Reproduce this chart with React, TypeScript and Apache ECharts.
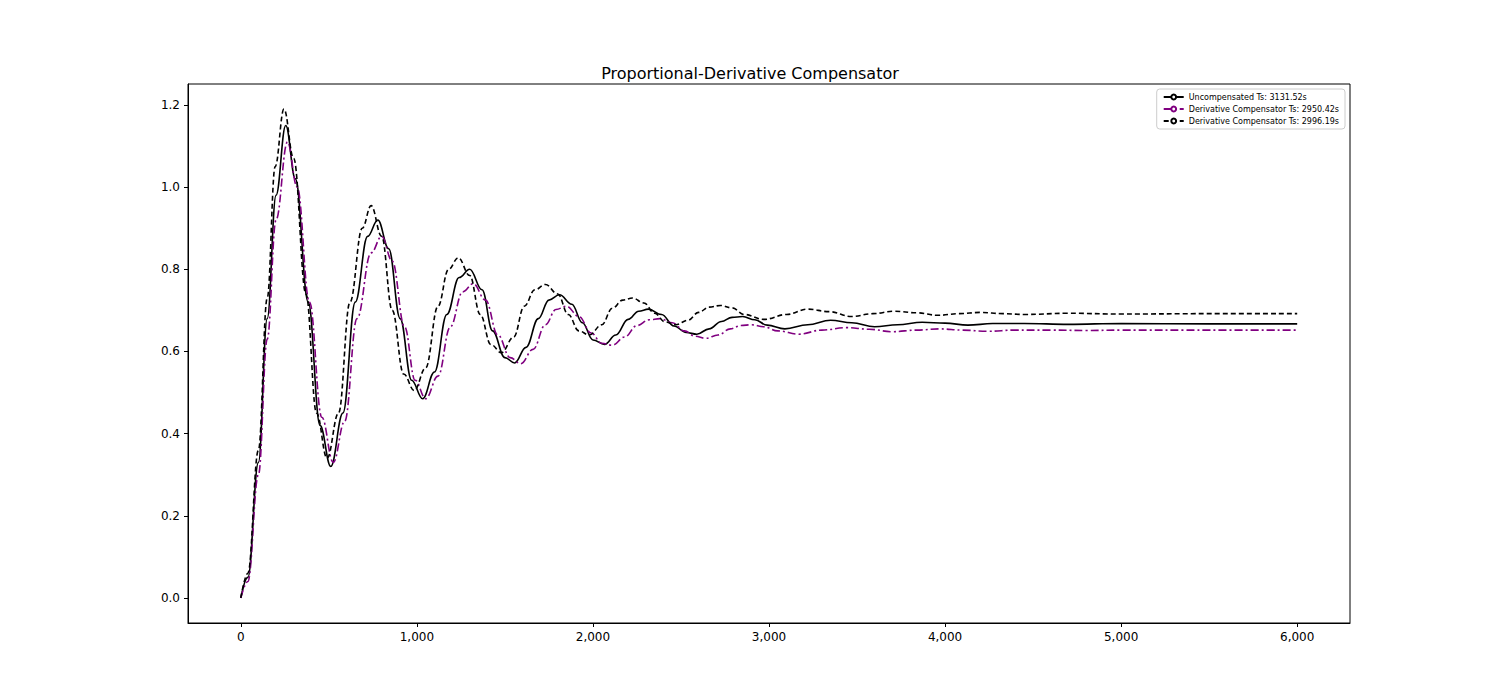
import React, { useEffect, useRef } from 'react';
import * as echarts from 'echarts';

const xTicks = [0, 1000, 2000, 3000, 4000, 5000, 6000];
const yTicks = [0, 0.2, 0.4, 0.6, 0.8, 1.0, 1.2];
const seriesNames = [
  'Uncompensated Ts: 3131.52s',
  'Derivative Compensator Ts: 2950.42s',
  'Derivative Compensator Ts: 2996.19s',
];

const uncompensated = [[0,0],[40,0.05],[100,0.33],[150,0.68],[200,0.98],[255,1.15],[310,1.02],[383,0.72],[450,0.42],[511,0.32],[580,0.45],[650,0.72],[720,0.88],[778,0.92],[840,0.85],[905,0.68],[970,0.53],[1033,0.485],[1100,0.55],[1170,0.69],[1240,0.78],[1300,0.80],[1370,0.75],[1430,0.65],[1500,0.585],[1555,0.572],[1620,0.61],[1690,0.68],[1750,0.725],[1810,0.738],[1880,0.715],[1940,0.67],[2000,0.628],[2066,0.617],[2130,0.64],[2200,0.678],[2260,0.698],[2315,0.703],[2390,0.69],[2460,0.662],[2530,0.646],[2590,0.642],[2660,0.655],[2730,0.673],[2790,0.683],[2850,0.685],[2920,0.677],[2990,0.664],[3090,0.655],[3220,0.665],[3350,0.676],[3470,0.67],[3600,0.660],[3730,0.665],[3870,0.671],[4000,0.669],[4130,0.664],[4270,0.668],[4450,0.668],[4700,0.666],[5000,0.668],[5500,0.667],[6000,0.667]];

const derivA = [[0,0],[40,0.04],[100,0.3],[150,0.63],[200,0.92],[265,1.11],[320,1.0],[390,0.72],[460,0.44],[525,0.33],[590,0.43],[660,0.68],[740,0.84],[800,0.88],[860,0.82],[930,0.66],[990,0.53],[1050,0.485],[1120,0.54],[1190,0.66],[1260,0.745],[1320,0.765],[1390,0.725],[1460,0.64],[1530,0.585],[1590,0.57],[1660,0.605],[1730,0.665],[1790,0.702],[1850,0.71],[1920,0.685],[1990,0.645],[2050,0.62],[2110,0.615],[2180,0.635],[2250,0.663],[2320,0.677],[2380,0.68],[2450,0.67],[2520,0.65],[2580,0.637],[2640,0.632],[2710,0.64],[2780,0.655],[2840,0.663],[2900,0.665],[2970,0.66],[3050,0.65],[3170,0.642],[3300,0.652],[3440,0.658],[3570,0.654],[3700,0.648],[3840,0.652],[3970,0.655],[4100,0.652],[4240,0.649],[4400,0.652],[4600,0.652],[4800,0.651],[5000,0.652],[5500,0.652],[6000,0.652]];

const derivB = [[0,0],[40,0.06],[100,0.36],[150,0.73],[195,1.05],[245,1.19],[300,1.07],[370,0.74],[430,0.45],[490,0.34],[555,0.45],[620,0.72],[690,0.9],[740,0.955],[800,0.88],[860,0.70],[925,0.545],[985,0.505],[1050,0.56],[1120,0.71],[1180,0.8],[1235,0.828],[1300,0.785],[1360,0.69],[1420,0.617],[1480,0.597],[1550,0.635],[1610,0.71],[1670,0.75],[1730,0.763],[1800,0.74],[1860,0.69],[1920,0.65],[1980,0.64],[2050,0.665],[2110,0.705],[2170,0.725],[2225,0.73],[2290,0.718],[2350,0.693],[2410,0.672],[2470,0.665],[2540,0.676],[2600,0.695],[2660,0.708],[2725,0.712],[2790,0.706],[2860,0.69],[2970,0.678],[3100,0.69],[3220,0.703],[3340,0.697],[3470,0.685],[3590,0.692],[3710,0.698],[3840,0.694],[3960,0.688],[4080,0.692],[4200,0.695],[4330,0.692],[4450,0.690],[4700,0.693],[5000,0.691],[5500,0.692],[6000,0.692]];

const font = 'DejaVu Sans';

const App: React.FC = () => {
  const chartRef = useRef<HTMLDivElement | null>(null);

  useEffect(() => {
    if (!chartRef.current) return;
    const chart = echarts.init(chartRef.current, null, { renderer: 'svg' });
    const line = (name: string, data: number[][], color: string, type: any) => ({
      name,
      type: 'line',
      data,
      smooth: 0.4,
      smoothMonotone: 'x',
      showSymbol: false,
      color,
      lineStyle: { color, width: 1.6, type },
    });
    chart.setOption({
      animation: false,
      textStyle: { fontFamily: font },
      title: {
        text: 'Proportional-Derivative Compensator',
        left: 'center',
        top: 60,
        textStyle: { fontFamily: font, fontSize: 16, fontWeight: 'normal', color: '#000' },
      },
      legend: {
        orient: 'vertical',
        right: 155,
        top: 89,
        itemWidth: 20,
        itemHeight: 6,
        itemGap: 4,
        padding: [4, 6],
        borderColor: '#ccc',
        borderWidth: 1,
        borderRadius: 3,
        backgroundColor: '#fff',
        textStyle: { fontFamily: font, fontSize: 8, color: '#000' },
        data: seriesNames,
      },
      grid: {
        left: 188, right: 150, top: 84, bottom: 77,
        show: true, borderColor: '#000', borderWidth: 1,
      },
      xAxis: {
        type: 'value', min: -300, max: 6300,
        axisLine: { show: true, onZero: false, lineStyle: { color: '#000' } },
        axisTick: { show: true, customValues: xTicks, length: 4, lineStyle: { color: '#000' } },
        axisLabel: { customValues: xTicks, color: '#000', fontSize: 12, margin: 8 },
        splitLine: { show: false },
      },
      yAxis: {
        type: 'value', min: -0.061, max: 1.251,
        axisLine: { show: true, onZero: false, lineStyle: { color: '#000' } },
        axisTick: { show: true, customValues: yTicks, length: 4, lineStyle: { color: '#000' } },
        axisLabel: { customValues: yTicks, color: '#000', fontSize: 12, margin: 8, formatter: (v: number) => v.toFixed(1) },
        splitLine: { show: false },
      },
      series: [
        line(seriesNames[0], uncompensated, '#000000', 'solid'),
        line(seriesNames[1], derivA, '#800080', [8, 3, 2, 3]),
        line(seriesNames[2], derivB, '#000000', [5, 3]),
      ],
    });
    return () => chart.dispose();
  }, []);

  return <div ref={chartRef} style={{ position: 'fixed', left: 0, top: 0, width: 1500, height: 700, background: '#fff' }} />;
};

export default App;
